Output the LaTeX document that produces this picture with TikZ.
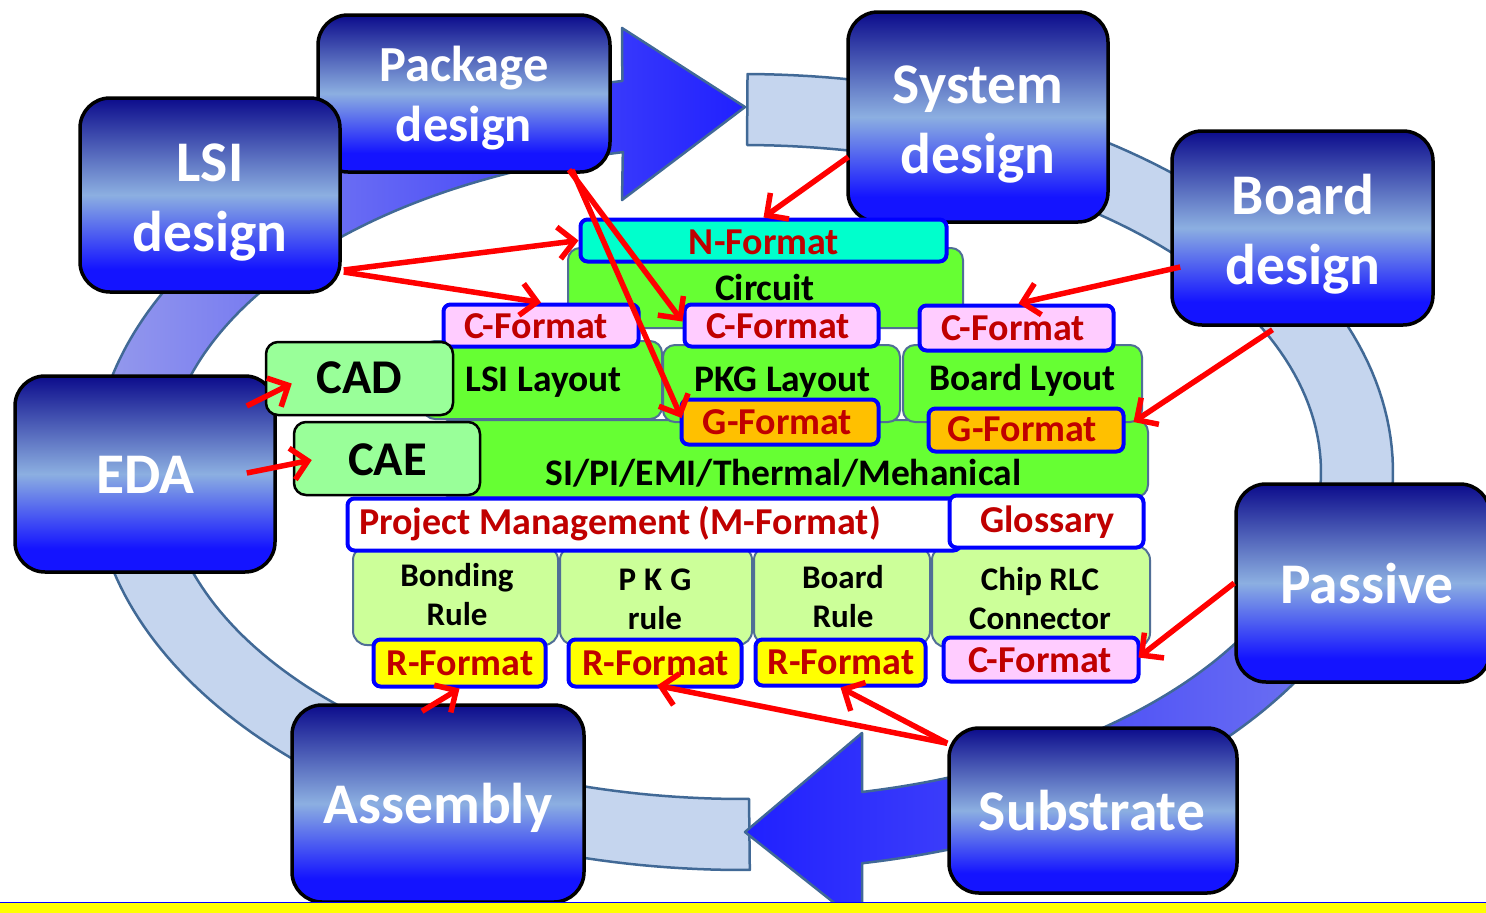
\documentclass[tikz,border=0pt]{standalone}
\usepackage{fontspec}
\setmainfont{Carlito}
\usetikzlibrary{arrows.meta,calc}
\definecolor{btop}{RGB}{12,12,140}
\definecolor{bmid}{RGB}{140,175,225}
\definecolor{bbot}{RGB}{20,20,255}
\definecolor{ringpale}{RGB}{197,213,238}
\definecolor{ringedge}{RGB}{65,105,150}
\definecolor{arrA}{RGB}{150,155,236}
\definecolor{arrB}{RGB}{32,32,255}
\definecolor{arrC}{RGB}{115,120,240}
\definecolor{fgreen}{RGB}{102,255,51}
\definecolor{lgreen}{RGB}{153,255,153}
\definecolor{rgreen}{RGB}{204,255,153}
\definecolor{fcyan}{RGB}{0,255,204}
\definecolor{fpink}{RGB}{255,204,255}
\definecolor{forange}{RGB}{255,192,0}
\definecolor{fyellow}{RGB}{255,255,0}
\definecolor{dred}{RGB}{192,0,0}
\definecolor{gedge}{RGB}{80,110,150}
\pgfdeclareverticalshading{boxshade}{100bp}{color(0bp)=(bbot); color(31bp)=(bbot); color(50bp)=(bmid); color(75bp)=(btop); color(100bp)=(btop)}
\tikzset{
  bigbox/.style={draw=black, line width=3.5pt, rounded corners=30pt, shade, shading=boxshade, inner sep=0pt},
  bigtxt/.style={text=white, font=\fontsize{57.5}{70}\selectfont\bfseries, align=center, inner sep=0pt},
  pkgtxt/.style={text=white, font=\fontsize{50.5}{60}\selectfont\bfseries, align=center, inner sep=0pt},
  fmtbox/.style={draw=blue, line width=4pt, rounded corners=7pt, inner sep=0pt},
  greenbox/.style={draw=gedge, line width=2pt, rounded corners=12pt, fill=fgreen, inner sep=0pt},
  rulebox/.style={draw=gedge, line width=2pt, rounded corners=14pt, fill=rgreen, inner sep=0pt},
  toolbox/.style={draw=black, line width=2.5pt, rounded corners=12pt, fill=lgreen, inner sep=0pt},
  fmttxt/.style={text=dred, font=\fontsize{38}{44}\selectfont\bfseries, anchor=base, inner sep=0pt},
  blktxt/.style={text=black, font=\fontsize{37.5}{44}\selectfont\bfseries, anchor=base, inner sep=0pt},
  tooltxt/.style={text=black, font=\fontsize{48.5}{56}\selectfont\bfseries, anchor=base, inner sep=0pt},
  ruletxt/.style={text=black, font=\fontsize{33}{39}\selectfont\bfseries, align=center, inner sep=0pt},
  ring/.style={draw=ringedge, line width=2.5pt, line join=round},
  redarr/.style={draw=red, line width=5.5pt, -{Straight Barb[length=16pt,width=32pt]}},
}
\begin{document}
\begin{tikzpicture}[x=1pt,y=-1pt]
\useasboundingbox (0,0) rectangle (1486,913);
\clip (0,0) rectangle (1486,913);
\fill[white] (0,0) rectangle (1486,913);
% ---------------- ring ----------------
\begin{scope}[shift={(743,472)}]
  \path[ring, fill=ringpale]
    plot[domain=-89.6:20, samples=80, variable=\t] ({650*cos(\t)},{398*sin(\t)})
    -- plot[domain=20:-89.6, samples=80, variable=\t] ({578*cos(\t)},{327*sin(\t)}) -- cycle;
  \path[ring, fill=ringpale]
    plot[domain=89.4:185, samples=80, variable=\t] ({650*cos(\t)},{398*sin(\t)})
    -- plot[domain=185:89.4, samples=80, variable=\t] ({578*cos(\t)},{327*sin(\t)}) -- cycle;
  \path[ring, left color=arrA, right color=arrB]
    plot[domain=178:259.3, samples=80, variable=\t] ({650*cos(\t)},{398*sin(\t)})
    -- (-121,-444) -- (2,-365) -- (-121,-272)
    -- plot[domain=258:178, samples=80, variable=\t] ({578*cos(\t)},{327*sin(\t)}) -- cycle;
  \path[ring, left color=arrB, right color=arrC]
    plot[domain=15:79.45, samples=80, variable=\t] ({650*cos(\t)},{398*sin(\t)})
    -- (119,453) -- (2,360) -- (119,261)
    -- plot[domain=78.1:15, samples=80, variable=\t] ({578*cos(\t)},{327*sin(\t)}) -- cycle;
\end{scope}
% ---------------- big boxes ----------------
\node[bigbox, minimum width=292pt, minimum height=157pt] (pkg) at (464,93.5) {};
\node[bigbox, minimum width=260pt, minimum height=194pt] (lsi) at (210,195) {};
\node[bigbox, minimum width=260pt, minimum height=210pt] (sys) at (978,117) {};
\node[bigbox, minimum width=261pt, minimum height=194pt] (brd) at (1302.5,228) {};
\node[bigbox, minimum width=260pt, minimum height=196pt] (eda) at (145,474) {};
\node[bigbox, minimum width=254pt, minimum height=198pt] (pas) at (1363,583) {};
\node[bigbox, minimum width=292pt, minimum height=197pt] (asm) at (438,803.5) {};
\node[bigbox, minimum width=288pt, minimum height=165pt] (sub) at (1093,810.5) {};
\node[pkgtxt] (pkgt) at (464,98.5) {Package\\design};
\node[bigtxt] (lsit) at (210,203) {LSI\\design};
\node[bigtxt] (syst) at (978,125) {System\\design};
\node[bigtxt] (brdt) at (1303,234.5) {Board\\design};
\node[bigtxt, anchor=base] (edat) at (145,493) {EDA};
\node[bigtxt, anchor=base] (past) at (1367,603) {Passive};
\node[bigtxt, anchor=base] (subt) at (1092,830) {Substrate};
\node[bigtxt, anchor=base] (asmt) at (438,823) {Assembly};
% ---------------- centre stack ----------------
\node[greenbox, minimum width=395pt, minimum height=80pt] (circ) at (765.5,288) {};
\node[fmtbox, fill=fcyan, minimum width=366pt, minimum height=42pt] (nfmt) at (763.5,240.5) {};
\node[greenbox, minimum width=708pt, minimum height=77pt] (si) at (794,458.5) {};
\node[greenbox, minimum width=239pt, minimum height=78pt] (lsil) at (542.5,380) {};
\node[greenbox, minimum width=237pt, minimum height=77pt] (pkgl) at (781.5,383.5) {};
\node[greenbox, minimum width=239pt, minimum height=77pt] (brdl) at (1022.5,383.5) {};
\node[fmtbox, fill=fpink, minimum width=195pt, minimum height=42pt] (cf1) at (541,325.5) {};
\node[fmtbox, fill=fpink, minimum width=194pt, minimum height=42pt] (cf2) at (781.5,325.5) {};
\node[fmtbox, fill=fpink, minimum width=194pt, minimum height=45pt] (cf3) at (1016.5,328) {};
\node[fmtbox, fill=forange, minimum width=197pt, minimum height=45pt] (gf1) at (780,422) {};
\node[fmtbox, fill=forange, minimum width=195pt, minimum height=43pt] (gf2) at (1026,430) {};
\node[toolbox, minimum width=187pt, minimum height=73pt] (cad) at (359.5,378.5) {};
\node[toolbox, minimum width=186pt, minimum height=73pt] (cae) at (387,458.5) {};
\node[rulebox, minimum width=205pt, minimum height=99pt] (br) at (455.5,595.5) {};
\node[rulebox, minimum width=192pt, minimum height=99pt] (pr) at (656,595.5) {};
\node[rulebox, minimum width=176pt, minimum height=99pt] (bdr) at (842,595.5) {};
\node[rulebox, minimum width=218pt, minimum height=101pt] (chip) at (1041,596.5) {};
\node[fmtbox, fill=white, minimum width=613pt, minimum height=52pt] (pm) at (654,524.5) {};
\node[fmtbox, fill=white, minimum width=194pt, minimum height=52pt] (glos) at (1046.5,521.5) {};
\node[fmtbox, fill=fyellow, minimum width=172pt, minimum height=47pt] (rf1) at (459.5,663) {};
\node[fmtbox, fill=fyellow, minimum width=173pt, minimum height=47pt] (rf2) at (655,663) {};
\node[fmtbox, fill=fyellow, minimum width=170pt, minimum height=46pt] (rf3) at (840.5,662.5) {};
\node[fmtbox, fill=fpink, minimum width=195pt, minimum height=44pt] (cf4) at (1041,659.5) {};
% texts
\node[fmttxt] (nfmtt) at (764,254) {N-Format};
\node[blktxt] (circt) at (765,300) {Circuit};
\node[fmttxt] (cf1t) at (536.5,338) {C-Format};
\node[fmttxt] (cf2t) at (778.5,338) {C-Format};
\node[fmttxt] (cf3t) at (1013.5,340) {C-Format};
\node[blktxt] (lsilt) at (543.5,391) {LSI Layout};
\node[blktxt] (pkglt) at (782.5,391) {PKG Layout};
\node[blktxt] (brdlt) at (1022.5,390) {Board Lyout};
\node[fmttxt] (gf1t) at (777.5,434) {G-Format};
\node[fmttxt] (gf2t) at (1022.5,441) {G-Format};
\node[tooltxt] (cadt) at (359.5,393) {CAD};
\node[tooltxt] (caet) at (387.5,475) {CAE};
\node[blktxt] (sit) at (783.5,485) {SI/PI/EMI/Thermal/Mehanical};
\node[fmttxt] (pmt) at (620,534) {Project Management (M-Format)};
\node[fmttxt] (glost) at (1047.5,532) {Glossary};
\node[ruletxt] (brt) at (457,594.5) {Bonding\\Rule};
\node[ruletxt] (prt) at (655,599.5) {P\hspace{8pt}K\hspace{8pt}G\\rule};
\node[ruletxt] (bdrt) at (843,596.5) {Board\\Rule};
\node[ruletxt] (chipt) at (1040,598.5) {Chip RLC\\Connector};
\node[fmttxt] (rf1t) at (460,675) {R-Format};
\node[fmttxt] (rf2t) at (655.5,675) {R-Format};
\node[fmttxt] (rf3t) at (841,674) {R-Format};
\node[fmttxt] (cf4t) at (1040.5,672) {C-Format};
% bottom bar
\fill[fyellow] (0,903) rectangle (1486,914);
\draw[blue, line width=1.5pt] (0,902.5) -- (1486,902.5);
% ---------------- red arrows ----------------
\draw[redarr] ($(sys.west)+(2,40)$) -- (nfmt.north);
\draw[redarr] ($(lsi.east)+(2,75)$) -- (nfmt.west);
\draw[redarr] ($(lsi.east)+(2,77)$) -- (cf1.north);
\draw[redarr] ($(pkg.south)+(105,-4)$) -- ($(cf2.west)+(0,-4)$);
\draw[redarr] ($(pkg.south)+(108,-4)$) -- ($(gf1.west)+(2,-4)$);
\draw[redarr] ($(brd.west)+(10,39)$) -- ($(cf3.north)+(2,0)$);
\draw[redarr] ($(brd.south)+(-30,3)$) -- ($(gf2.east)+(8,-8)$);
\draw[redarr] ($(eda.east)+(-30,-68)$) -- ($(cad.west)+(27,5)$);
\draw[redarr] ($(eda.east)+(-30,-1)$) -- ($(cae.west)+(19,1.5)$);
\draw[redarr] (pas.west) -- ($(cf4.east)+(-2,-2)$);
\draw[redarr] ($(asm.north)+(-16,8)$) -- (rf1.south);
\draw[redarr] ($(sub.north west)+(0,17)$) -- ($(rf2.south)+(2,-3)$);
\draw[redarr] ($(sub.north west)+(0,17)$) -- (rf3.south);
\end{tikzpicture}
\end{document}
